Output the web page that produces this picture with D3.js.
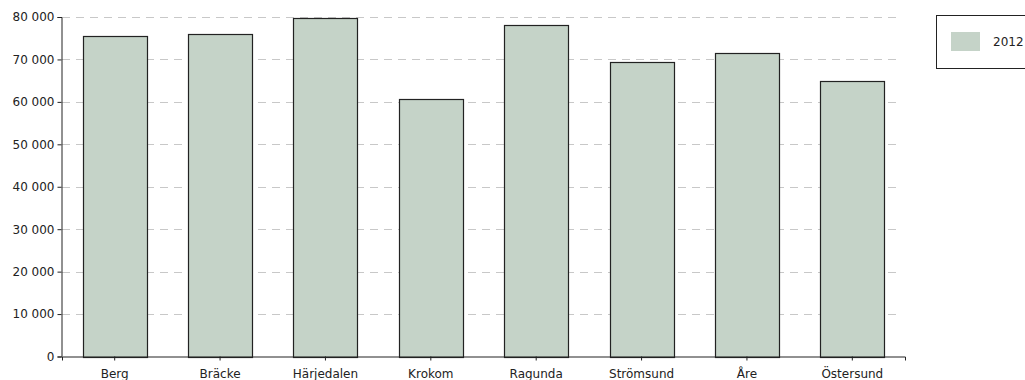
<!DOCTYPE html>
<html><head><meta charset="utf-8">
<script src="https://cdn.jsdelivr.net/npm/d3@7"></script>
<style>body{margin:0;background:#fff;} svg{display:block;} text{font-family:"DejaVu Sans",sans-serif;fill:#222;}</style>
</head><body><svg id="c" width="1025" height="380"></svg>
<script>
const categories = ["Berg","Bräcke","Härjedalen","Krokom","Ragunda","Strömsund","Åre","Östersund"];
const values2012 = [75500, 76100, 79800, 60700, 78000, 69400, 71600, 65000];
const yTicks = [0,10000,20000,30000,40000,50000,60000,70000,80000];
const seriesName = "2012";

const svg = d3.select("#c");
const x = d3.scaleBand().domain(categories).range([62, 905]).paddingInner(0.393).paddingOuter(0.1965);
const y = d3.scaleLinear().domain([0, 80000]).range([356.5, 17]);
const fmt = v => d3.format(",")(v).replace(/,/g, " ");

// grid
svg.append("g").selectAll("line").data(yTicks.filter(d=>d>0)).join("line")
  .attr("x1", 62).attr("x2", 902)
  .attr("y1", d => Math.round(y(d))+0.5).attr("y2", d => Math.round(y(d))+0.5)
  .attr("stroke", "#c8c8c8").attr("stroke-dasharray", "8,6");

// bars
svg.append("g").selectAll("rect").data(categories).join("rect")
  .attr("x", d => Math.round(x(d))+0.5)
  .attr("y", (d,i) => Math.round(y(values2012[i]))+0.5)
  .attr("width", Math.round(x.bandwidth()))
  .attr("height", (d,i) => Math.round(y(0)) - Math.round(y(values2012[i])))
  .attr("fill", "#c5d3c8").attr("stroke", "#222").attr("stroke-width", 1.2);

// y axis
const ya = svg.append("g").attr("transform", "translate(61.5,0)")
  .call(d3.axisLeft(y).tickValues(yTicks).tickFormat(fmt).tickSizeOuter(0).tickSize(4).tickPadding(3));
ya.select(".domain").attr("stroke", "#222");
ya.selectAll(".tick line").attr("stroke", "#222");
ya.selectAll("text").style("font-size", "12px").attr("fill", "#222");

// x axis
const xa = svg.append("g").attr("transform", "translate(0,356.5)")
  .call(d3.axisBottom(x).tickSizeOuter(0).tickSize(4).tickPadding(9));
xa.select(".domain").attr("stroke", "#222");
xa.selectAll(".tick line").attr("stroke", "#222");
xa.selectAll("text").style("font-size", "12px").attr("fill", "#222");

// legend
const lg = svg.append("g");
lg.append("rect").attr("x", 936.5).attr("y", 15.5).attr("width", 100).attr("height", 53)
  .attr("fill", "#fff").attr("stroke", "#222");
lg.append("rect").attr("x", 951).attr("y", 32).attr("width", 29).attr("height", 19).attr("fill", "#c5d3c8");
lg.append("text").attr("x", 993).attr("y", 46).style("font-size", "12px").text(seriesName);
</script></body></html>
